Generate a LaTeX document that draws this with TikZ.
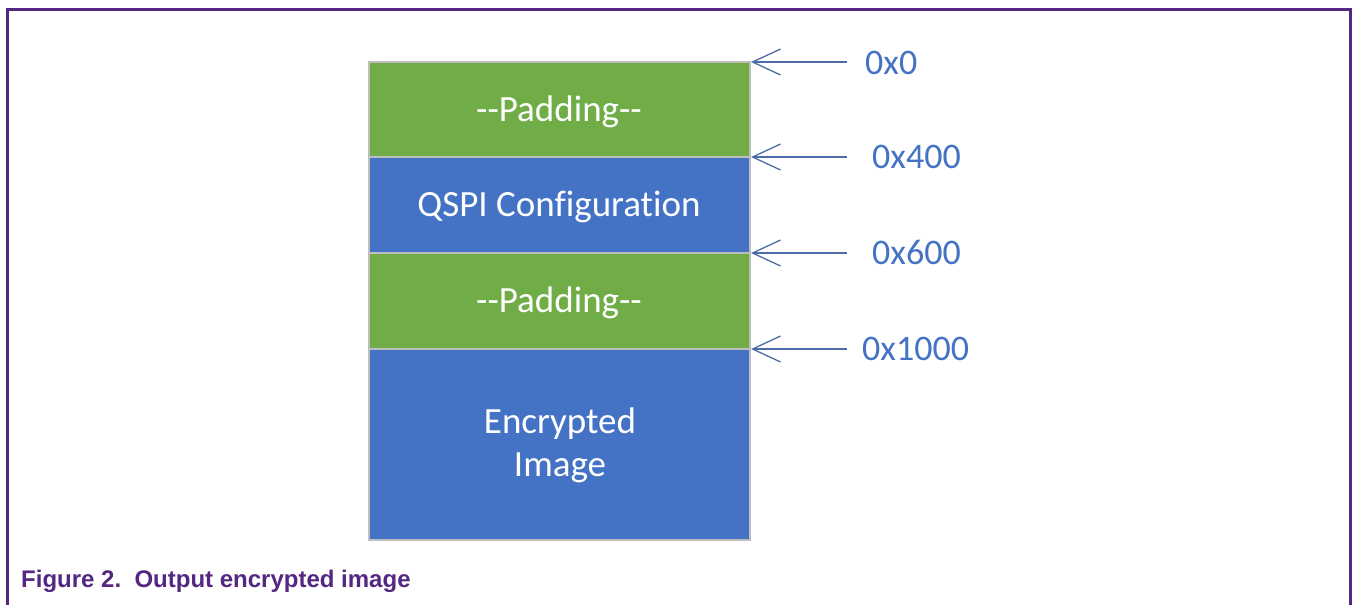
\documentclass[tikz,border=0pt]{standalone}
\usepackage{fontspec}
\setmainfont{Carlito}[Ligatures=NoCommon]
\newfontfamily\capfont{Liberation Sans}
\usetikzlibrary{arrows.meta}
\definecolor{frame}{RGB}{84,40,130}
\definecolor{pgreen}{RGB}{112,173,71}
\definecolor{pblue}{RGB}{68,114,196}
\definecolor{arrowc}{RGB}{78,108,165}
\definecolor{labc}{RGB}{68,114,196}
\definecolor{sep}{RGB}{190,190,190}
\tikzset{
  seg/.style={draw=sep, line width=1.5pt},
  segtext/.style={text=white, font=\fontsize{37}{43}\selectfont, anchor=base, inner sep=0pt},
  addr/.style={text=labc, font=\fontsize{36}{40}\selectfont, anchor=base west, inner sep=0pt},
  pointer/.style={draw=arrowc, line width=1.3pt, -{Straight Barb[length=28pt,width=26pt,line width=1.3pt]}},
}
\begin{document}
\begin{tikzpicture}[x=1pt,y=-1pt]
\useasboundingbox (0,0) rectangle (1354,605);
\fill[white] (0,0) rectangle (1354,605);
% frame
\draw[frame, line width=3pt] (7,605) -- (7,9) -- (1350,9) -- (1350,605);
% segments
\path[fill=pgreen, seg] (369,62) rectangle (750,157);
\path[fill=pblue, seg] (369,157) rectangle (750,253);
\path[fill=pgreen, seg] (369,253) rectangle (750,349);
\path[fill=pblue, seg] (369,349) rectangle (750,540);
\node[segtext] (p1) at (559,121) {-{}-Padding-{}-};
\node[segtext] (q) at (559,216) {QSPI Configuration};
\node[segtext] (p2) at (559,312) {-{}-Padding-{}-};
\node[segtext] (e1) at (560,433) {Encrypted};
\node[segtext] (e2) at (560,476) {Image};
% pointers
\coordinate (t0) at (751,62);
\coordinate (t1) at (751,157);
\coordinate (t2) at (751,253);
\coordinate (t3) at (751,349);
\coordinate (s0) at (847,62);
\coordinate (s1) at (847,157);
\coordinate (s2) at (847,253);
\coordinate (s3) at (847,349);
\draw[pointer] (s0) -- (t0);
\draw[pointer] (s1) -- (t1);
\draw[pointer] (s2) -- (t2);
\draw[pointer] (s3) -- (t3);
\node[addr] (a0) at (865,74) {0x0};
\node[addr] (a1) at (872,168) {0x400};
\node[addr] (a2) at (872,264) {0x600};
\node[addr] (a3) at (862,360) {0x1000};
% caption
\node[anchor=base west, inner sep=0pt, text=frame, font=\capfont\bfseries\fontsize{24}{26}\selectfont] (cap) at (21,587) {Figure 2.\ \ Output encrypted image};
\end{tikzpicture}
\end{document}
